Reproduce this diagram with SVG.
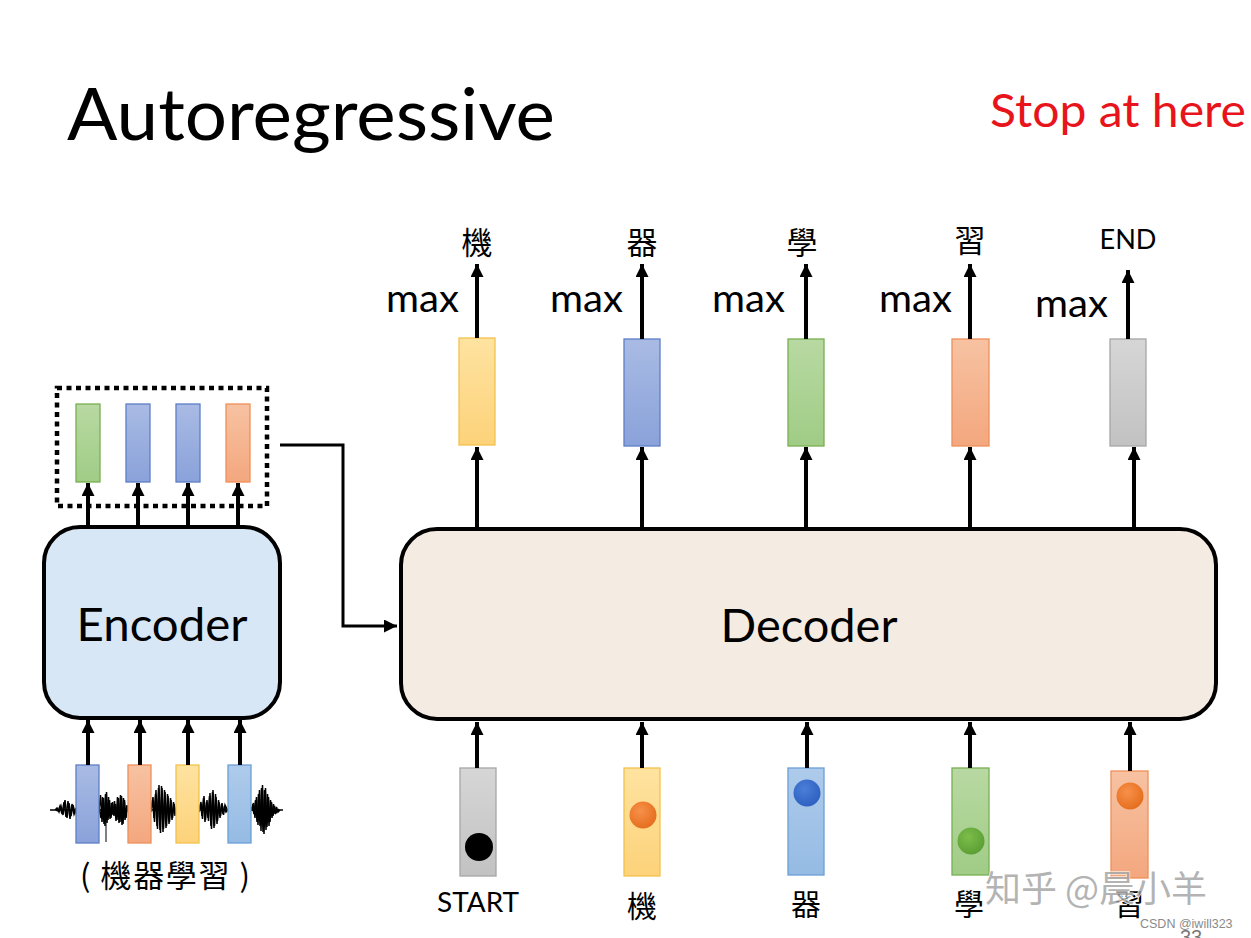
<svg xmlns="http://www.w3.org/2000/svg" width="1251" height="938" viewBox="0 0 1251 938">
  <defs>
    <style>
      .lat { font-family: Lato, "Open Sans", "Liberation Sans", sans-serif; fill: #000; }
      .cjk { font-family: "Noto Sans CJK TC", "Noto Sans CJK SC", sans-serif; fill: #000; }
      .conn { stroke: #000; stroke-width: 4; fill: none; }
      .bar { stroke-width: 1.3; }
      .wave { fill: none; stroke: #000; stroke-width: 1.5; stroke-linejoin: miter; }
      .y { fill: url(#gY); stroke: #f2c24e; }
      .b { fill: url(#gB); stroke: #5f7ec6; }
      .g { fill: url(#gG); stroke: #79b052; }
      .o { fill: url(#gO); stroke: #ee8f5a; }
      .k { fill: url(#gK); stroke: #a6a6a6; }
      .lb { fill: url(#gLB); stroke: #6a9fd6; }
    </style>
    <linearGradient id="gY" x1="0" y1="0" x2="0" y2="1"><stop offset="0" stop-color="#fee3a0"/><stop offset="1" stop-color="#fdd27a"/></linearGradient>
    <linearGradient id="gB" x1="0" y1="0" x2="0" y2="1"><stop offset="0" stop-color="#a9bbe4"/><stop offset="1" stop-color="#8aa2da"/></linearGradient>
    <linearGradient id="gG" x1="0" y1="0" x2="0" y2="1"><stop offset="0" stop-color="#b8d9a2"/><stop offset="1" stop-color="#a0cc86"/></linearGradient>
    <linearGradient id="gO" x1="0" y1="0" x2="0" y2="1"><stop offset="0" stop-color="#f7c2a2"/><stop offset="1" stop-color="#f3a77e"/></linearGradient>
    <linearGradient id="gK" x1="0" y1="0" x2="0" y2="1"><stop offset="0" stop-color="#d6d6d6"/><stop offset="1" stop-color="#c2c2c2"/></linearGradient>
    <linearGradient id="gLB" x1="0" y1="0" x2="0" y2="1"><stop offset="0" stop-color="#aecbeb"/><stop offset="1" stop-color="#95bbe4"/></linearGradient>
    <radialGradient id="dO" cx="0.4" cy="0.35" r="0.7"><stop offset="0" stop-color="#f7914a"/><stop offset="1" stop-color="#e46c1c"/></radialGradient>
    <radialGradient id="dB" cx="0.4" cy="0.35" r="0.7"><stop offset="0" stop-color="#4a7fd8"/><stop offset="1" stop-color="#2d5fbf"/></radialGradient>
    <radialGradient id="dG" cx="0.4" cy="0.35" r="0.7"><stop offset="0" stop-color="#7cbd4a"/><stop offset="1" stop-color="#5a9d33"/></radialGradient>
    <marker id="ah" viewBox="0 0 10 10" refX="10" refY="5" markerWidth="13" markerHeight="13" markerUnits="userSpaceOnUse" orient="auto">
      <path d="M0,0 L10,5 L0,10 z" fill="#000"/>
    </marker>
  </defs>

  <rect width="1251" height="938" fill="#fff"/>

  <!-- headings -->
  <g id="title">
    <text class="lat" x="67" y="140" font-size="72" textLength="488" lengthAdjust="spacingAndGlyphs">Autoregressive</text>
  </g>
  <g id="stop-note">
    <text class="lat" x="990" y="127" font-size="47" style="fill:#e8141b" textLength="256" lengthAdjust="spacingAndGlyphs">Stop at here</text>
  </g>

  <!-- audio input: waveform under four frames -->
  <g id="audio-input">
    <line x1="50" y1="810" x2="283" y2="810" stroke="#000" stroke-width="1.6"/>
    <polyline class="wave" points="55,810 57,808 59,812 61,806 63,815 65,800 67,818 69,803 71,816 73,805 75,813 76,810"/>
    <polyline class="wave" points="56,810 58,811 60,806 62,814 64,802 66,817 68,801 70,819 72,804 74,814 76,808"/>
    <polyline class="wave" points="99,810 100.5,795 102,822 103.5,798 105,826 106.5,792 108,820 109.5,800 111,818 112.5,802 114,816 115.5,804 117,820 118.5,798 120,822 121.5,796 123,824 124.5,800 126,818 127.5,806 128,810"/>
    <polyline class="wave" points="99,808 101,818 102.5,797 104,824 105.5,794 107,823 108.5,797 110,819 111.5,803 113,815 114.5,801 116,821 117.5,797 119,823 120.5,795 122,825 123.5,798 125,820 127,805 128,812"/>
    <line x1="106" y1="798" x2="106" y2="842" stroke="#000" stroke-width="1"/>
    <polyline class="wave" points="151,810 152.5,800 154,818 155.5,794 157,826 158.5,788 160,830 161.5,786 163,832 164.5,790 166,828 167.5,794 169,824 170.5,798 172,820 173.5,802 175,816 176,810"/>
    <polyline class="wave" points="151,812 153,797 154.5,822 156,790 157.5,829 159,785 160.5,833 162,788 163.5,829 165,792 166.5,826 168,796 169.5,822 171,800 172.5,818 174,804 176,812"/>
    <polyline class="wave" points="199,810 200.5,804 202,816 203.5,798 205,822 206.5,802 208,818 209.5,796 211,826 212.5,792 214,828 215.5,794 217,824 218.5,800 220,818 221.5,804 223,814 224.5,806 226,812 228,810"/>
    <polyline class="wave" points="199,812 201,802 202.5,819 204,796 205.5,820 207,800 208.5,821 210,793 211.5,829 213,790 214.5,826 216,797 217.5,821 219,802 220.5,816 222,803 223.5,815 225,805 228,811"/>
    <polyline class="wave" points="251,810 252.5,806 254,814 255.5,800 257,822 258.5,794 260,826 261.5,788 263,832 264.5,790 266,830 267.5,794 269,826 270.5,800 272,818 273.5,804 275,814 276.5,807 278,812 280,810"/>
    <polyline class="wave" points="252,811 253.5,803 255,818 256.5,797 258,825 259.5,790 261,831 262.5,785 264,834 265.5,788 267,827 268.5,797 270,822 271.5,802 273,816 274.5,806 276,813 279,809"/>
    <line x1="186" y1="800" x2="186" y2="822" stroke="#000" stroke-width="1"/>
    <rect class="bar b" x="76" y="765" width="23" height="78"/>
    <rect class="bar o" x="128" y="765" width="23" height="78"/>
    <rect class="bar y" x="176" y="765" width="23" height="78"/>
    <rect class="bar lb" x="228" y="765" width="23" height="78"/>
    <text class="cjk" x="165" y="887" font-size="31" text-anchor="middle" textLength="170" lengthAdjust="spacing">( 機器學習 )</text>
  </g>

  <!-- encoder -->
  <g id="encoder">
    <rect x="44" y="527" width="236" height="191" rx="36" fill="#d8e7f5" stroke="#000" stroke-width="4"/>
    <text class="lat" x="162" y="641" font-size="46" text-anchor="middle" textLength="171" lengthAdjust="spacingAndGlyphs">Encoder</text>
  </g>

  <!-- encoder output vectors -->
  <g id="encoder-output">
    <rect x="57" y="388" width="210" height="118" fill="none" stroke="#000" stroke-width="4.5" stroke-dasharray="5,4.5"/>
    <rect class="bar g" x="76" y="404" width="24" height="78"/>
    <rect class="bar b" x="126" y="404" width="24" height="78"/>
    <rect class="bar b" x="176" y="404" width="24" height="78"/>
    <rect class="bar o" x="226" y="404" width="24" height="78"/>
  </g>

  <!-- decoder -->
  <g id="decoder">
    <rect x="401" y="529" width="815" height="190" rx="36" fill="#f4ece3" stroke="#000" stroke-width="4"/>
    <text class="lat" x="809" y="642" font-size="46" text-anchor="middle" textLength="177" lengthAdjust="spacingAndGlyphs">Decoder</text>
  </g>

  <!-- decoder input tokens -->
  <g id="dec-in-start">
    <rect class="bar k" x="460" y="768" width="36" height="108"/>
    <circle cx="479" cy="847" r="14" fill="#000"/>
    <text class="lat" x="478" y="912" font-size="27" text-anchor="middle" textLength="82" lengthAdjust="spacingAndGlyphs">START</text>
  </g>
  <g id="dec-in-1">
    <rect class="bar y" x="624" y="768" width="36" height="108"/>
    <circle cx="643" cy="815" r="13.5" fill="url(#dO)"/>
    <text class="cjk" x="642" y="917" font-size="30" text-anchor="middle">機</text>
  </g>
  <g id="dec-in-2">
    <rect class="bar lb" x="788" y="768" width="36" height="107"/>
    <circle cx="807" cy="793" r="13.5" fill="url(#dB)"/>
    <text class="cjk" x="806" y="915" font-size="30" text-anchor="middle">器</text>
  </g>
  <g id="dec-in-3">
    <rect class="bar g" x="952" y="768" width="37" height="107"/>
    <circle cx="971" cy="841" r="13.5" fill="url(#dG)"/>
    <text class="cjk" x="969" y="915" font-size="30" text-anchor="middle">學</text>
  </g>
  <g id="dec-in-4">
    <rect class="bar o" x="1111" y="771" width="37" height="107"/>
    <circle cx="1130" cy="796" r="13.5" fill="url(#dO)"/>
    <text class="cjk" x="1129" y="915" font-size="30" text-anchor="middle">習</text>
  </g>

  <!-- decoder output distributions -->
  <g id="dec-out-1">
    <rect class="bar y" x="459" y="338" width="36" height="107"/>
    <text class="lat" x="386" y="312" font-size="39" textLength="73" lengthAdjust="spacingAndGlyphs">max</text>
    <text class="cjk" x="477" y="254" font-size="31" text-anchor="middle">機</text>
  </g>
  <g id="dec-out-2">
    <rect class="bar b" x="624" y="339" width="36" height="107"/>
    <text class="lat" x="550" y="312" font-size="39" textLength="73" lengthAdjust="spacingAndGlyphs">max</text>
    <text class="cjk" x="642" y="254" font-size="31" text-anchor="middle">器</text>
  </g>
  <g id="dec-out-3">
    <rect class="bar g" x="788" y="339" width="36" height="107"/>
    <text class="lat" x="712" y="312" font-size="39" textLength="73" lengthAdjust="spacingAndGlyphs">max</text>
    <text class="cjk" x="802" y="254" font-size="31" text-anchor="middle">學</text>
  </g>
  <g id="dec-out-4">
    <rect class="bar o" x="952" y="339" width="37" height="107"/>
    <text class="lat" x="879" y="312" font-size="39" textLength="73" lengthAdjust="spacingAndGlyphs">max</text>
    <text class="cjk" x="970" y="252" font-size="31" text-anchor="middle">習</text>
  </g>
  <g id="dec-out-5">
    <rect class="bar k" x="1110" y="339" width="36" height="107"/>
    <text class="lat" x="1035" y="317" font-size="39" textLength="73" lengthAdjust="spacingAndGlyphs">max</text>
    <text class="lat" x="1128" y="249" font-size="26" text-anchor="middle" textLength="57" lengthAdjust="spacingAndGlyphs">END</text>
  </g>

  <!-- connectors -->
  <g id="connectors" class="conn">
    <!-- audio frames into encoder -->
    <line x1="88" y1="765" x2="88" y2="720" marker-end="url(#ah)"/>
    <line x1="140" y1="765" x2="140" y2="720" marker-end="url(#ah)"/>
    <line x1="188" y1="765" x2="188" y2="720" marker-end="url(#ah)"/>
    <line x1="240" y1="765" x2="240" y2="720" marker-end="url(#ah)"/>
    <!-- encoder to output vectors -->
    <line x1="88" y1="527" x2="88" y2="483" marker-end="url(#ah)"/>
    <line x1="138" y1="527" x2="138" y2="483" marker-end="url(#ah)"/>
    <line x1="188" y1="527" x2="188" y2="483" marker-end="url(#ah)"/>
    <line x1="238" y1="527" x2="238" y2="483" marker-end="url(#ah)"/>
    <!-- encoder memory to decoder -->
    <path d="M280,445 H343 V626 H397" stroke-width="3" marker-end="url(#ah)"/>
    <!-- decoder inputs -->
    <line x1="477" y1="768" x2="477" y2="722" marker-end="url(#ah)"/>
    <line x1="642" y1="768" x2="642" y2="722" marker-end="url(#ah)"/>
    <line x1="807" y1="768" x2="807" y2="722" marker-end="url(#ah)"/>
    <line x1="970" y1="768" x2="970" y2="722" marker-end="url(#ah)"/>
    <line x1="1130" y1="771" x2="1130" y2="722" marker-end="url(#ah)"/>
    <!-- decoder to outputs -->
    <line x1="477" y1="527" x2="477" y2="447" marker-end="url(#ah)"/>
    <line x1="642" y1="527" x2="642" y2="447" marker-end="url(#ah)"/>
    <line x1="806" y1="527" x2="806" y2="447" marker-end="url(#ah)"/>
    <line x1="970" y1="527" x2="970" y2="447" marker-end="url(#ah)"/>
    <line x1="1134" y1="527" x2="1134" y2="447" marker-end="url(#ah)"/>
    <!-- outputs through max -->
    <line x1="477" y1="338" x2="477" y2="264" marker-end="url(#ah)"/>
    <line x1="642" y1="339" x2="642" y2="264" marker-end="url(#ah)"/>
    <line x1="806" y1="339" x2="806" y2="264" marker-end="url(#ah)"/>
    <line x1="970" y1="339" x2="970" y2="264" marker-end="url(#ah)"/>
    <line x1="1128" y1="339" x2="1128" y2="270" marker-end="url(#ah)"/>
  </g>

  <!-- page marks -->
  <g id="marks">
    <text x="985" y="902" font-size="36" font-family="'Noto Sans CJK SC', sans-serif" fill="#9a9a9a" fill-opacity="0.75" stroke="#fff" stroke-width="1" paint-order="stroke">知乎 @晨小羊</text>
    <text x="1140" y="928" font-size="12.5" font-family="'Liberation Sans', sans-serif" fill="#8a8a8a">CSDN @iwill323</text>
    <text x="1180" y="944" font-size="20" font-family="'Liberation Sans', sans-serif" fill="#777">33</text>
  </g>
</svg>
